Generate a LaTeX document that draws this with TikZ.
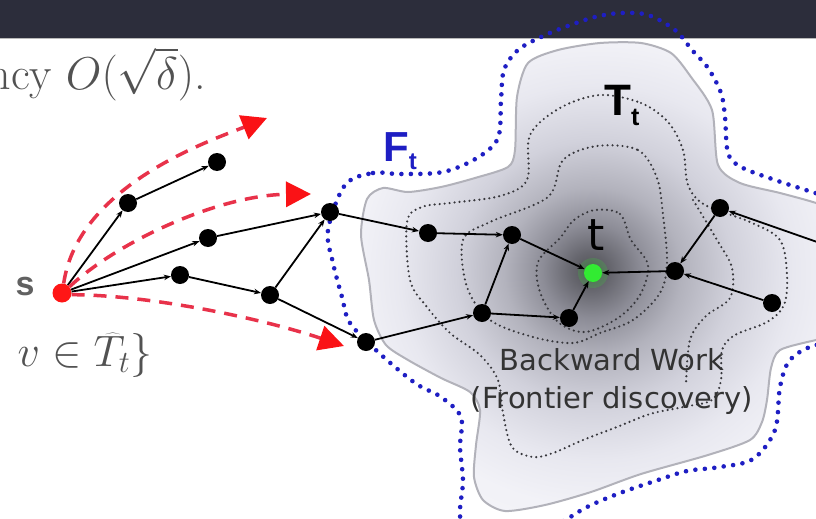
\RequirePackage{fix-cm}
\documentclass[tikz,border=0pt]{standalone}
\usepackage{fontspec}
\newfontfamily\dejavu{DejaVu Sans}
\newfontfamily\arialf{Liberation Sans}
\usetikzlibrary{arrows.meta}

\definecolor{barcol}{RGB}{44,45,59}
\definecolor{fblue}{RGB}{30,30,195}
\definecolor{dashred}{RGB}{232,50,74}
\definecolor{tipred}{RGB}{250,18,22}
\definecolor{sred}{RGB}{255,22,22}
\definecolor{tgreen}{RGB}{50,235,50}
\definecolor{rimgray}{RGB}{178,178,186}
\definecolor{ringgray}{RGB}{55,55,60}
\definecolor{textgray}{RGB}{82,82,82}

% grey "density" of the backward region, darkest around t
% (the central 50bp square is fitted to the region's bounding box)
\pgfdeclareradialshading{blobshade}{\pgfpoint{-1.7bp}{0.65bp}}{%
  rgb(0bp)=(0.32,0.32,0.34);
  rgb(2bp)=(0.40,0.40,0.43);
  rgb(5bp)=(0.55,0.55,0.59);
  rgb(9bp)=(0.70,0.70,0.74);
  rgb(14bp)=(0.82,0.82,0.86);
  rgb(20bp)=(0.91,0.91,0.94);
  rgb(25bp)=(0.95,0.95,0.97);
  rgb(50bp)=(0.97,0.97,0.98)}

\begin{document}
\begin{tikzpicture}[x=1pt,y=-1pt,
  vtx/.style={circle,fill=black,inner sep=0pt,minimum size=18pt},
  edge/.style={black,line width=1.8pt,-{Stealth[length=7pt,width=5.5pt]}},
  reddash/.style={dashred,line width=3.5pt,dash pattern=on 13pt off 9pt,
    -{Triangle[length=25pt,width=25pt,fill=tipred,color=tipred]}},
  ring/.style={ringgray,line width=2.4pt,line cap=round,dash pattern=on 0pt off 5pt},
  fdots/.style={fblue,line width=4.6pt,line cap=round,dash pattern=on 0pt off 9.5pt}]

\useasboundingbox (0,0) rectangle (816,519);
\clip (0,0) rectangle (816,519);
\fill[white] (0,0) rectangle (816,519);

% title bar
\fill[barcol] (0,0) rectangle (816,38);
\draw[gray!55,line width=1.2pt] (0,38.6) -- (816,38.6);

% backward region T_t
\shadedraw[shading=blobshade,draw=rimgray,line width=2pt]
  plot[smooth cycle,tension=0.45] coordinates {
  (515,150) (517,97) (528,63) (558,50) (600,43) (641,43) (671,53) (691,77)
  (712,110) (718,165) (740,183) (780,193) (816,203) (845,215) (852,280)
  (840,335) (816,340) (780,350) (771,368) (767,400) (762,422) (750,440)
  (708,455) (641,474) (591,492) (545,505) (505,511) (483,500) (474,477)
  (476,445) (480,410) (470,392) (441,378) (408,360) (386,345) (374,320)
  (369,280) (361,235) (367,199) (383,188) (408,192) (441,187) (475,178)
  (508,167)};

% level sets of the backward work
\draw[ring] plot[smooth cycle,tension=0.55] coordinates {
  (600,95) (641,103) (668,122) (683,150) (688,185) (705,205) (750,222)
  (780,240) (787,275) (784,305) (767,322) (735,335) (722,350) (721,380)
  (712,400) (683,407) (650,414) (617,427) (583,440) (553,453) (533,457)
  (512,447) (503,413) (498,380) (480,355) (450,333) (427,307) (410,280)
  (407,222) (422,207) (450,203) (500,196) (527,180) (530,135) (560,108)};
\draw[ring] plot[smooth cycle,tension=0.55] coordinates {
  (597,146) (638,150) (657,178) (663,215) (667,262) (660,293) (633,320)
  (600,333) (573,343) (533,337) (490,320) (467,287) (463,240) (490,222)
  (548,197) (563,160)};
\draw[ring] plot[smooth cycle,tension=0.55] coordinates {
  (595,210) (620,214) (631,240) (648,265) (640,295) (618,318) (585,332)
  (558,322) (540,292) (538,262) (560,238) (574,220)};
\draw[ring] plot[smooth,tension=0.55] coordinates {
  (693,200) (717,240) (732,268) (730,298) (706,316) (690,340) (686,385)};

% frontier F_t
\draw[fdots] plot[smooth cycle,tension=0.55] coordinates {
  (345,185) (373,173) (400,174) (443,172) (477,158) (498,138) (501,100)
  (504,70) (518,50) (541,37) (565,27) (595,17) (621,13) (648,15) (675,30)
  (692,50) (708,68) (721,93) (725,117) (728,153) (741,167) (775,180)
  (815,193) (850,205) (862,340) (816,345) (790,360) (780,387) (775,430)
  (753,459) (720,467) (687,471) (658,480) (620,493) (587,507) (555,525)
  (510,536) (463,525) (463,480) (460,447) (461,417) (441,397) (415,383)
  (378,352) (350,323) (342,297) (333,263) (328,230)};

% glow round the target
\fill[tgreen,opacity=0.18] (593,273) circle (15pt);

% vertices
\node[vtx,fill=sred,minimum size=19pt] (s) at (62,293) {};
\node[vtx] (a1) at (128,203) {};
\node[vtx] (a2) at (217,162) {};
\node[vtx] (b1) at (208,238) {};
\node[vtx] (c1) at (180,275) {};
\node[vtx] (c2) at (270,295) {};
\node[vtx] (d) at (330,212) {};
\node[vtx] (e) at (366,342) {};
\node[vtx] (f) at (428,233) {};
\node[vtx] (g) at (512,235) {};
\node[vtx] (h) at (482,313) {};
\node[vtx] (i) at (569,318) {};
\node[vtx,fill=tgreen,minimum size=18pt] (t) at (593,273) {};
\node[vtx] (j) at (675,271) {};
\node[vtx] (k) at (720,208) {};
\node[vtx] (l) at (772,303) {};
\coordinate (rx) at (840,250);

% forward search edges
\draw[edge] (s) -- (a1);
\draw[edge] (a1) -- (a2);
\draw[edge] (s) -- (b1);
\draw[edge] (b1) -- (d);
\draw[edge] (s) -- (c1);
\draw[edge] (c1) -- (c2);
\draw[edge] (c2) -- (d);
\draw[edge] (c2) -- (e);
% edges inside the frontier
\draw[edge] (d) -- (f);
\draw[edge] (f) -- (g);
\draw[edge] (e) -- (h);
\draw[edge] (h) -- (g);
\draw[edge] (h) -- (i);
\draw[edge] (i) -- (t);
\draw[edge] (g) -- (t);
\draw[edge] (j) -- (t);
\draw[edge] (k) -- (j);
\draw[edge] (l) -- (j);
\draw[edge] (rx) -- (k);

% random walks from s
\coordinate (w1) at (267,118);
\coordinate (w2) at (311,194);
\coordinate (w3) at (344,346);
\draw[reddash] (s.80) .. controls (78,185) and (212,140) .. (w1);
\draw[reddash] (s.40) .. controls (120,240) and (220,195) .. (w2);
\draw[reddash] (s.-10) .. controls (150,295) and (260,318) .. (w3);

% labels
\node[textgray,anchor=base west,font=\fontsize{46}{46}\selectfont] (hdr) at (-16,89)
  {ncy $O(\sqrt{\delta})$.};
\node[textgray,anchor=base west,font=\fontsize{44}{44}\selectfont] (setx) at (14,366)
  {$v\in\widehat{T}_t\}$};
\node[text=black!62,font=\arialf\bfseries\fontsize{34}{34}\selectfont] (slab) at (25,287) {s};
\node[fblue,anchor=base west,inner sep=0pt,font=\arialf\bfseries] (flab) at (383,161)
  {\fontsize{42}{42}\selectfont F\raisebox{-8pt}{\fontsize{24}{24}\selectfont t}};
\node[black,anchor=base west,inner sep=0pt,font=\arialf\bfseries] (tlab) at (604,115)
  {\fontsize{44}{44}\selectfont T\raisebox{-10pt}{\fontsize{25}{25}\selectfont t}};
\node[black,anchor=base west,inner sep=0pt,font=\dejavu\fontsize{44}{44}\selectfont] (tt) at (587,250) {t};
\node[text=black!80,anchor=base,font=\dejavu\fontsize{29}{29}\selectfont] (bw1) at (612,370) {Backward Work};
\node[text=black!80,anchor=base,font=\dejavu\fontsize{29}{29}\selectfont] (bw2) at (612,408) {(Frontier discovery)};
\end{tikzpicture}
\end{document}
